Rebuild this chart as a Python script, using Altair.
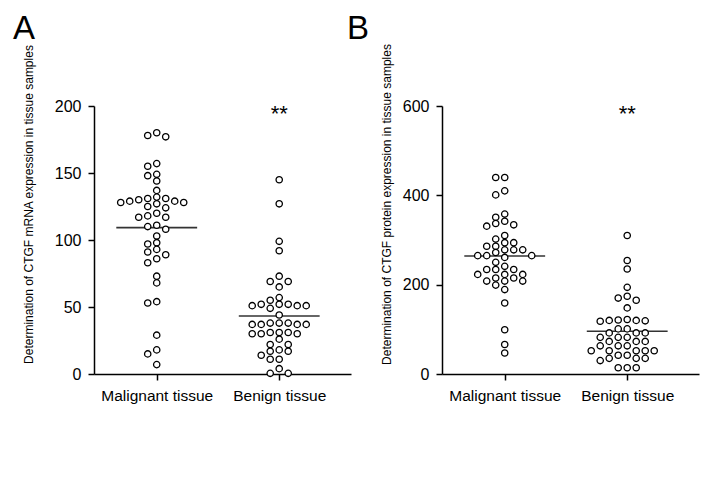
import altair as alt
import pandas as pd
import numpy as np

FONT = "Liberation Sans, Arial, sans-serif"

groups = ["Malignant tissue", "Benign tissue"]

# Panel A: CTGF mRNA expression
mrna_malignant = [178, 177, 180, 157, 155, 149, 148, 144, 137, 131, 132, 131, 130,
                  128, 128, 127, 129, 129, 124, 125, 120, 117, 117, 118, 111, 110,
                  108, 103, 98, 97, 93, 91, 89, 86, 83, 73, 68, 54, 53, 29, 18, 15, 7]
mrna_benign = [145, 127, 99, 92, 73, 69, 69, 65, 57, 55, 51, 52, 51, 52, 51, 52,
               49, 44, 37, 38, 37, 38, 37, 38, 37, 30, 31, 30, 31, 30, 31, 26, 22,
               22, 17, 18, 17, 14, 11, 11, 4, 0.5, 0.5]

# Panel B: CTGF protein expression
prot_malignant = [440, 440, 410, 401, 358, 351, 342, 337, 334, 331, 310, 302, 294,
                  294, 286, 286, 278, 278, 278, 272, 265, 265, 261, 250, 241, 234,
                  234, 234, 223, 223, 223, 215, 215, 208, 208, 208, 199, 189, 159,
                  99, 66, 47, 265]
prot_benign = [310, 254, 235, 194, 174, 165, 170, 148, 120, 120, 121, 119, 118, 122,
               101, 101, 92, 92, 92, 82, 82, 82, 73, 73, 73, 63, 63, 63, 52, 52, 52,
               52, 52, 42, 42, 35, 35, 35, 30, 14, 14, 14]

X_DOMAIN = [0.488, 2.586]
PLOT_W = 257
PLOT_H = 268


def swarm(values, y_max, step_px=9.0, dot_px=6.0):
    """Greedy column-scatter layout: returns x offsets in x-data units."""
    px_per_y = PLOT_H / y_max
    px_per_x = PLOT_W / (X_DOMAIN[1] - X_DOMAIN[0])
    placed = []
    offs = []
    for v in values:
        y = v * px_per_y
        slot_choice = 0
        for k in range(0, 20):
            cands = [0] if k == 0 else [-k, k]
            ok = None
            for s in cands:
                if all(not (ps == s and abs(py - y) < dot_px) for py, ps in placed):
                    ok = s
                    break
            if ok is not None:
                slot_choice = ok
                break
        placed.append((y, slot_choice))
        offs.append(slot_choice * step_px / px_per_x)
    return offs


def make_df(mal, ben, y_max):
    rows = []
    for gi, vals in enumerate([mal, ben]):
        order = sorted(vals, reverse=True)
        offs = swarm(order, y_max)
        for v, o in zip(order, offs):
            rows.append({"grp": gi + 1, "value": v, "xpos": gi + 1 + o})
    return pd.DataFrame(rows)


def panel(mal, ben, y_max, y_ticks, title, letter, title_x, title_y, letter_x):
    df = make_df(mal, ben, y_max)
    base = alt.Chart(df)
    one = alt.Chart(pd.DataFrame({"k": [0]}))
    xaxis = alt.Axis(values=[1, 2], grid=False,
                     labelExpr="datum.value == 1 ? '%s' : '%s'" % (groups[0], groups[1]),
                     tickSize=6, tickColor="black", tickWidth=1.5,
                     domainColor="black", domainWidth=1.5, labelFont=FONT,
                     labelFontSize=15.5, labelColor="black", labelPadding=8, title=None)
    yaxis = alt.Axis(values=y_ticks, grid=False, tickSize=6, tickColor="black",
                     tickWidth=1.5, domainColor="black", domainWidth=1.5,
                     labelFont=FONT, labelFontSize=16, labelColor="black",
                     labelPadding=7, title=title, titleFont=FONT, titleFontSize=12,
                     titleFontWeight="normal", titleColor="black", titleAngle=-90,
                     titleX=title_x, titleY=title_y, titleAlign="center",
                     titleBaseline="middle")
    pts = base.mark_point(shape="circle", size=40, filled=True, fill="white",
                          stroke="black", strokeWidth=1.3, opacity=1).encode(
        x=alt.X("xpos:Q", scale=alt.Scale(domain=X_DOMAIN, nice=False, zero=False), axis=xaxis),
        y=alt.Y("value:Q", scale=alt.Scale(domain=[0, y_max], nice=False), axis=yaxis),
    )
    mean = base.transform_aggregate(m="mean(value)", groupby=["grp"]).transform_calculate(
        x1="datum.grp - 0.33", x2="datum.grp + 0.33").mark_rule(
        color="#333333", strokeWidth=1.6).encode(x="x1:Q", x2="x2:Q", y="m:Q")
    stars = one.mark_text(text="**", font=FONT, fontSize=22, color="black",
                          baseline="middle", dy=8).encode(
        x=alt.datum(2), y=alt.datum(y_max))
    lab = one.mark_text(text=letter, font=FONT, fontSize=33, color="black",
                        align="left", baseline="alphabetic").encode(
        x=alt.value(letter_x), y=alt.value(-67))
    return alt.layer(mean, pts, stars, lab).properties(width=PLOT_W, height=PLOT_H)


pA = panel(mrna_malignant, mrna_benign, 200, [0, 50, 100, 150, 200],
           "Determination of CTGF mRNA expression in tissue samples", "A", -66, 98, -81)
pB = panel(prot_malignant, prot_benign, 600, [0, 200, 400, 600],
           "Determination of CTGF protein expression in tissue samples", "B", -56, 98, -95)

chart = alt.hconcat(pA, pB, spacing=-4).configure(
    background="white").configure_view(strokeWidth=0, stroke="transparent")

chart.save("out.html", embed_options={"renderer": "svg", "actions": False})
